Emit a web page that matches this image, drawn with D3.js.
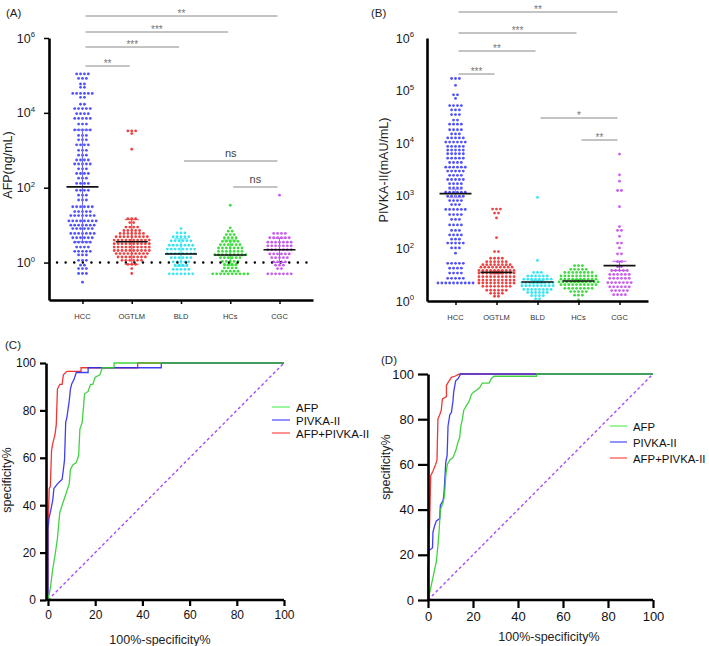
<!DOCTYPE html>
<html><head><meta charset="utf-8">
<script src="https://cdn.jsdelivr.net/npm/d3@7"></script>
<style>body{margin:0;background:#fff}svg{display:block}text{font-family:"Liberation Sans",Arial,sans-serif}</style>
</head><body><svg id="c" width="709" height="646"></svg>
<script>
const categories = ["HCC","OGTLM","BLD","HCs","CGC"];
const groupColors = ["#5050ff","#f24040","#3ae4f2","#3ddd3d","#c95cf0"];

// ---- Panel A: AFP (ng/mL), dot rows: value and number of dots in the row
const afpHccVal = [1.1e5,8.3e4,5.9e4,4.8e4,3.3e4,2.6e4,1.7e4,1.3e4,9500,7100,5000,3500,2500,1900,1400,1000,740,550,430,320,240,180,130,85,63,47,31,23,18,13,10,8.1,6.0,4.6,3.5,2.6,2.0,1.6,1.15,0.85,0.69,0.51,0.30];
const afpHccN   = [4,3,2,2,6,2,2,5,4,5,3,5,3,3,4,3,3,4,5,3,4,3,4,4,3,3,6,5,7,8,7,6,7,6,5,4,5,3,3,2,3,3,1];
const afpOgtVal = [3300,2800,1070,15,11.7,8.9,7.2,6.0,4.9,4.0,3.2,2.6,2.1,1.74,1.41,1.15,0.89,0.69,0.51];
const afpOgtN   = [3,1,1,3,2,4,5,7,9,10,10,10,10,9,8,6,3,1,1];
const afpBldVal = [8.1,6.2,4.9,3.8,2.9,2.3,1.74,1.35,1.05,0.85,0.66,0.50];
const afpBldN   = [1,3,5,6,7,8,8,6,5,4,5,7];
const afpHcsVal = [34,8.5,6.9,5.6,4.6,3.7,3.0,2.45,2.0,1.62,1.35,1.07,0.89,0.72,0.59,0.50];
const afpHcsN   = [1,1,2,3,4,5,6,7,7,9,6,5,4,4,5,10];
const afpCgcVal = [63,6.0,4.6,3.5,2.8,2.2,1.7,1.35,1.05,0.85,0.69,0.50];
const afpCgcN   = [1,4,6,7,7,7,6,5,4,3,2,7];
const afpMean = [105,3.6,1.7,1.6,2.2];
const afpErrLow = [3.6,0.9,0.8,0.85,1.0];
const afpErrHigh = [3500,14,4.3,4.0,4.5];
const afpTickVals = [1,1e2,1e4,1e6];
const afpTickExp = ["0","2","4","6"];
const afpCutoff = 1;

// ---- Panel B: PIVKA-II (mAU/mL)
const pivHccVal = [1.7e5,1.26e5,8.3e4,7.1e4,5.2e4,4.3e4,3.5e4,2.75e4,2.3e4,1.8e4,1.5e4,1.26e4,1.05e4,8700,7400,6300,5200,4300,3500,2950,2450,2040,1700,1410,1170,980,810,680,550,440,355,280,220,180,150,126,102,81,52,42,34,27,22];
const pivHccN   = [3,1,2,1,4,3,3,2,4,4,3,5,6,5,5,5,5,4,6,5,4,5,4,4,6,5,4,3,6,4,3,4,3,4,3,5,3,1,5,4,4,5,10];
const pivOgtVal = [560,470,380,160,87,65,56,49,44,38,34,29,25,22,19,16,14,12.3];
const pivOgtN   = [3,2,1,1,2,4,6,8,9,10,10,10,10,10,8,6,4,2];
const pivBldVal = [930,59,35,30,26,22.4,19.5,16.6,14.5,12.6,11];
const pivBldN   = [1,1,3,6,8,9,9,8,6,4,2];
const pivHcsVal = [47,40,35,30,26,23,20.4,17.4,15.1,12.9,10.5];
const pivHcsN   = [3,5,8,10,10,11,10,8,5,3,1];
const pivCgcVal = [6200,2500,1900,1260,620,260,220,170,126,102,79,56,45,38,32,27,22.4,18.6,15.8,13.2];
const pivCgcN   = [1,1,1,2,1,1,2,1,2,1,2,2,2,5,6,6,7,6,5,4];
const pivMean = [1100,35,23,24,47];
const pivErrLow = [920,33,22,23,38];
const pivErrHigh = [1330,37,24.5,25.5,57];
const pivTickVals = [1e1,1e2,1e3,1e4,1e5,1e6];
const pivTickExp = ["0","2","3","4","5","6"];

// significance brackets: [from, to, label, y(px)]
const afpBrackets = [["HCC","CGC","**",16],["HCC","HCs","***",32],["HCC","BLD","***",47],["HCC","OGTLM","**",66],["BLD","CGC","ns",161],["HCs","CGC","ns",187]];
const pivBrackets = [["HCC","CGC","**",12],["HCC","HCs","***",33],["HCC","BLD","**",51],["HCC","OGTLM","***",74],["BLD","CGC","*",118],["HCs","CGC","**",140]];

// ---- ROC curves (x = 100%-specificity%, y = sensitivity%)
const rocNames = ["AFP","PIVKA-II","AFP+PIVKA-II"];
const rocColors = ["#2fcc2f","#2b2bf0","#f02020"];
const legendColors = ["#66ee66","#5555ff","#ff5555"];
const cAfpX = [0,1,2,3,4,5,6,8,9,9.5,10.5,12,13,13.5,14.5,15.5,17,18,19,20,22,23,28,28,100];
const cAfpY = [0,5,13,19,26,37,40,46,49,55,57,58,61,72,75,87,88,91,91,94,95,98,98,100,100];
const cPivX = [0,0,0.5,1,2,2.5,4,5,6,7,7.5,8,9,9.5,10,11,12,17,17,48,48,100];
const cPivY = [0,30,35,37,42,47,49,50,51,59,75,77,84,89,91,93,96,96,98,98,100,100];
const cComX = [0,0,0.5,1,1.5,2,3,3.5,4,5,6,6.5,8,14,14,38,38,100];
const cComY = [0,30,47,48,63,66,70,74,89,91,91,95,96.5,96.5,98,98,100,100];
const dAfpX = [0,0.7,2,3.7,4.5,4.9,5.5,6.7,7.4,7.9,8.6,9.7,11.1,12.3,13.4,14.1,14.6,15.3,15.9,17.1,18.3,19.3,20.4,21.8,23,24.1,27.2,28.2,29.3,48.3,48.3,100];
const dAfpY = [0,3,9,17,25,30,40,43,47,55,60,62,63,66,70,72,77,80,84,86,88,91,92,93,94,96,96,98,99,99,100,100];
const dPivX = [0,0,0.5,2,2.2,3,3.7,5.2,5.5,6.7,7.1,7.4,7.9,8.5,8.9,9.7,10.4,11.1,11.4,12.3,13.4,14.5,100];
const dPivY = [0,12,22,23,30,33,35,36,42,44,47,52,61,64,77,82,83,88,92,97,98,100,100];
const dComX = [0,0,0.4,0.7,1.2,2.2,3.4,4,4.4,5.2,5.9,6.4,8.2,8.2,9.4,10.4,11.9,14,100];
const dComY = [0,12,28,33,55,57,60,62,80,82,84,89,90,95,97,98.5,99,100,100];
const rocTicks = [0,20,40,60,80,100];

const svg = d3.select("#c");
const FONT = "Liberation Sans, Arial, sans-serif";

function supLabel(g, x, y, exp, fs){
  const t = g.append("text").attr("x",x).attr("y",y).attr("text-anchor","end").attr("font-size",fs).attr("fill","#222");
  t.append("tspan").text("10");
  t.append("tspan").attr("dy",-fs*0.42).attr("font-size",fs*0.62).text(exp);
}

function dotRows(g, cx, vals, ns, y, color){
  const pts = [];
  vals.forEach((v,i)=>{ const n = ns[i]; for(let j=0;j<n;j++) pts.push({v, off:(j-(n-1)/2)}); });
  g.selectAll(null).data(pts).enter().append("circle")
    .attr("cx",d=>cx + d.off*3.9).attr("cy",d=>y(d.v)).attr("r",1.4).attr("fill",color);
}

function scatterPanel(opt){
  const g = svg.append("g");
  const y = d3.scaleLog().domain(opt.yDomain).range([opt.bottom, opt.top]);
  const x = d3.scalePoint().domain(categories).range([opt.left, opt.right]).padding(opt.pad);
  opt.series.forEach((s,i)=> dotRows(g, x(categories[i]), s[0], s[1], y, groupColors[i]));
  if (opt.cutoff){
    g.append("line").attr("x1",opt.left+8).attr("x2",opt.right-6).attr("y1",y(opt.cutoff)).attr("y2",y(opt.cutoff))
      .attr("stroke","#000").attr("stroke-width",2.4).attr("stroke-linecap","round").attr("stroke-dasharray","0.1 8.5");
  }
  categories.forEach((c,i)=>{
    const cx = x(c);
    g.append("line").attr("x1",cx).attr("x2",cx).attr("y1",y(opt.errLow[i])).attr("y2",y(opt.errHigh[i])).attr("stroke",opt.errColor[i]).attr("stroke-width",1);
    [opt.errLow[i],opt.errHigh[i]].forEach(v=> g.append("line").attr("x1",cx-7).attr("x2",cx+7).attr("y1",y(v)).attr("y2",y(v)).attr("stroke",opt.errColor[i]).attr("stroke-width",1));
    g.append("line").attr("x1",cx-16).attr("x2",cx+16).attr("y1",y(opt.mean[i])).attr("y2",y(opt.mean[i])).attr("stroke","#111").attr("stroke-width",1.6);
  });
  const ya = d3.axisLeft(y).tickValues(opt.tickVals).tickFormat("").tickSize(opt.tickLen).tickSizeOuter(0);
  const yg = g.append("g").attr("transform",`translate(${opt.left},0)`).call(ya);
  yg.select(".domain").attr("stroke","#000").attr("stroke-width",2.6);
  yg.selectAll(".tick line").attr("stroke","#000").attr("stroke-width",1.5);
  opt.tickVals.forEach((v,i)=> supLabel(g, opt.left-opt.labelGap, y(v)+4.5, opt.tickExp[i], 12.5));
  const xa = d3.axisBottom(x).tickSize(4).tickSizeOuter(0).tickFormat("");
  const xg = g.append("g").attr("transform",`translate(0,${opt.bottom})`).call(xa);
  xg.select(".domain").attr("stroke","#000").attr("stroke-width",2.4);
  xg.selectAll(".tick line").attr("stroke","#000").attr("stroke-width",1.5);
  categories.forEach(c=> g.append("text").attr("x",x(c)).attr("y",opt.bottom+19).attr("text-anchor","middle").attr("font-size",7.5).attr("fill","#333").text(c));
  g.append("text").attr("transform",`translate(${opt.titleX},${opt.titleY}) rotate(-90)`).attr("text-anchor","middle").attr("font-size",12.5).attr("fill","#222").text(opt.yTitle);
  g.append("text").attr("x",opt.panelX).attr("y",17).attr("font-size",11.5).attr("fill","#222").text(opt.panel);
  opt.brackets.forEach(b=>{
    const x1 = x(b[0])+3, x2 = x(b[1])-2;
    g.append("line").attr("x1",x1).attr("x2",x2).attr("y1",b[3]).attr("y2",b[3]).attr("stroke","#888").attr("stroke-width",1);
    const star = b[2] !== "ns";
    g.append("text").attr("x",(x1+x2)/2).attr("y",star? b[3]+1 : b[3]-4).attr("text-anchor","middle")
      .attr("font-size",star?10:11).attr("fill",star?"#777":"#444").text(b[2]);
  });
}

scatterPanel({
  panel:"(A)", panelX:6, left:49, right:313, top:38, bottom:300, pad:0.68,
  yDomain:[0.1,1e6], tickVals:afpTickVals, tickExp:afpTickExp, tickLen:5, labelGap:14,
  series:[[afpHccVal,afpHccN],[afpOgtVal,afpOgtN],[afpBldVal,afpBldN],[afpHcsVal,afpHcsN],[afpCgcVal,afpCgcN]],
  mean:afpMean, errLow:afpErrLow, errHigh:afpErrHigh, errColor:["#6a6aff","#f03c3c","#33e3f0","#33dd33","#c455ee"],
  cutoff:afpCutoff, yTitle:"AFP(ng/mL)", titleX:12, titleY:165, brackets:afpBrackets
});
scatterPanel({
  panel:"(B)", panelX:371, left:427, right:648, top:38, bottom:301, pad:0.695,
  yDomain:[10,1e6], tickVals:pivTickVals, tickExp:pivTickExp, tickLen:0, labelGap:13,
  series:[[pivHccVal,pivHccN],[pivOgtVal,pivOgtN],[pivBldVal,pivBldN],[pivHcsVal,pivHcsN],[pivCgcVal,pivCgcN]],
  mean:pivMean, errLow:pivErrLow, errHigh:pivErrHigh, errColor:["#a08cff","#f03c3c","#33e3f0","#33dd33","#c455ee"],
  cutoff:null, yTitle:"PIVKA-II(mAU/mL)", titleX:388, titleY:170, brackets:pivBrackets
});

function rocPanel(opt){
  const g = svg.append("g");
  const x = d3.scaleLinear().domain([0,100]).range([opt.x0,opt.x1]);
  const y = d3.scaleLinear().domain([0,100]).range([opt.y0,opt.y1]);
  g.append("line").attr("x1",x(0)).attr("y1",y(0)).attr("x2",x(100)).attr("y2",y(100))
    .attr("stroke","#a64dff").attr("stroke-width",1.4).attr("stroke-dasharray","3,2.5");
  const line = d3.line().x(d=>x(d[0])).y(d=>y(d[1]));
  [2,1,0].forEach(k=>{
    const xs = opt.curves[k][0], ys = opt.curves[k][1];
    g.append("path").attr("d",line(xs.map((v,i)=>[v,ys[i]]))).attr("fill","none")
      .attr("stroke",rocColors[k]).attr("stroke-width",1.3).attr("stroke-opacity",0.9);
  });
  const xa = d3.axisBottom(x).tickValues(rocTicks).tickSize(opt.xTick).tickSizeOuter(0).tickPadding(4);
  const xg = g.append("g").attr("transform",`translate(0,${opt.y0})`).call(xa);
  const ya = d3.axisLeft(y).tickValues(rocTicks).tickSize(opt.yTick).tickSizeOuter(0).tickPadding(4);
  const yg = g.append("g").attr("transform",`translate(${opt.x0-opt.shift},0)`).call(ya);
  [xg,yg].forEach(a=>{
    a.select(".domain").attr("stroke","#000").attr("stroke-width",2.6);
    a.selectAll(".tick line").attr("stroke","#000").attr("stroke-width",2.2);
    a.selectAll(".tick text").attr("font-family",FONT).attr("font-size",opt.fs).attr("fill","#111");
  });
  xg.select(".domain").attr("d",`M${opt.x0-opt.shift},0H${opt.x1}`);
  g.append("text").attr("x",opt.xtX).attr("y",opt.xtY).attr("text-anchor","middle").attr("font-size",opt.tfs).attr("fill","#222").text("100%-specificity%");
  g.append("text").attr("transform",`translate(${opt.ytX},${opt.ytY}) rotate(-90)`).attr("text-anchor","middle").attr("font-size",opt.tfs).attr("fill","#222").text("specificity%");
  g.append("text").attr("x",opt.pX).attr("y",opt.pY).attr("font-size",11.5).attr("fill","#222").text(opt.panel);
  rocNames.forEach((n,i)=>{
    const ly = opt.legY[i];
    g.append("line").attr("x1",opt.legX).attr("x2",opt.legX+opt.legW).attr("y1",ly).attr("y2",ly).attr("stroke",legendColors[i]).attr("stroke-width",1.3);
    g.append("text").attr("x",opt.legX+opt.legW+opt.legGap).attr("y",ly+4.5).attr("font-size",opt.lfs).attr("fill","#111").text(n);
  });
}

rocPanel({
  panel:"(C)", pX:5, pY:349, x0:48, x1:284, y0:600, y1:363, shift:2, xTick:6, yTick:6, fs:12, tfs:12.5,
  xtX:160, xtY:644, ytX:11, ytY:480,
  curves:[[cAfpX,cAfpY],[cPivX,cPivY],[cComX,cComY]],
  legX:272, legW:18, legGap:6, legY:[407,420,433], lfs:11.5
});
rocPanel({
  panel:"(D)", pX:381, pY:364, x0:428, x1:653, y0:600, y1:374, shift:0, xTick:8, yTick:10, fs:13, tfs:12.5,
  xtX:549, xtY:641, ytX:390, ytY:467,
  curves:[[dAfpX,dAfpY],[dPivX,dPivY],[dComX,dComY]],
  legX:610, legW:17, legGap:6, legY:[426,442,458], lfs:11.4
});
</script></body></html>
